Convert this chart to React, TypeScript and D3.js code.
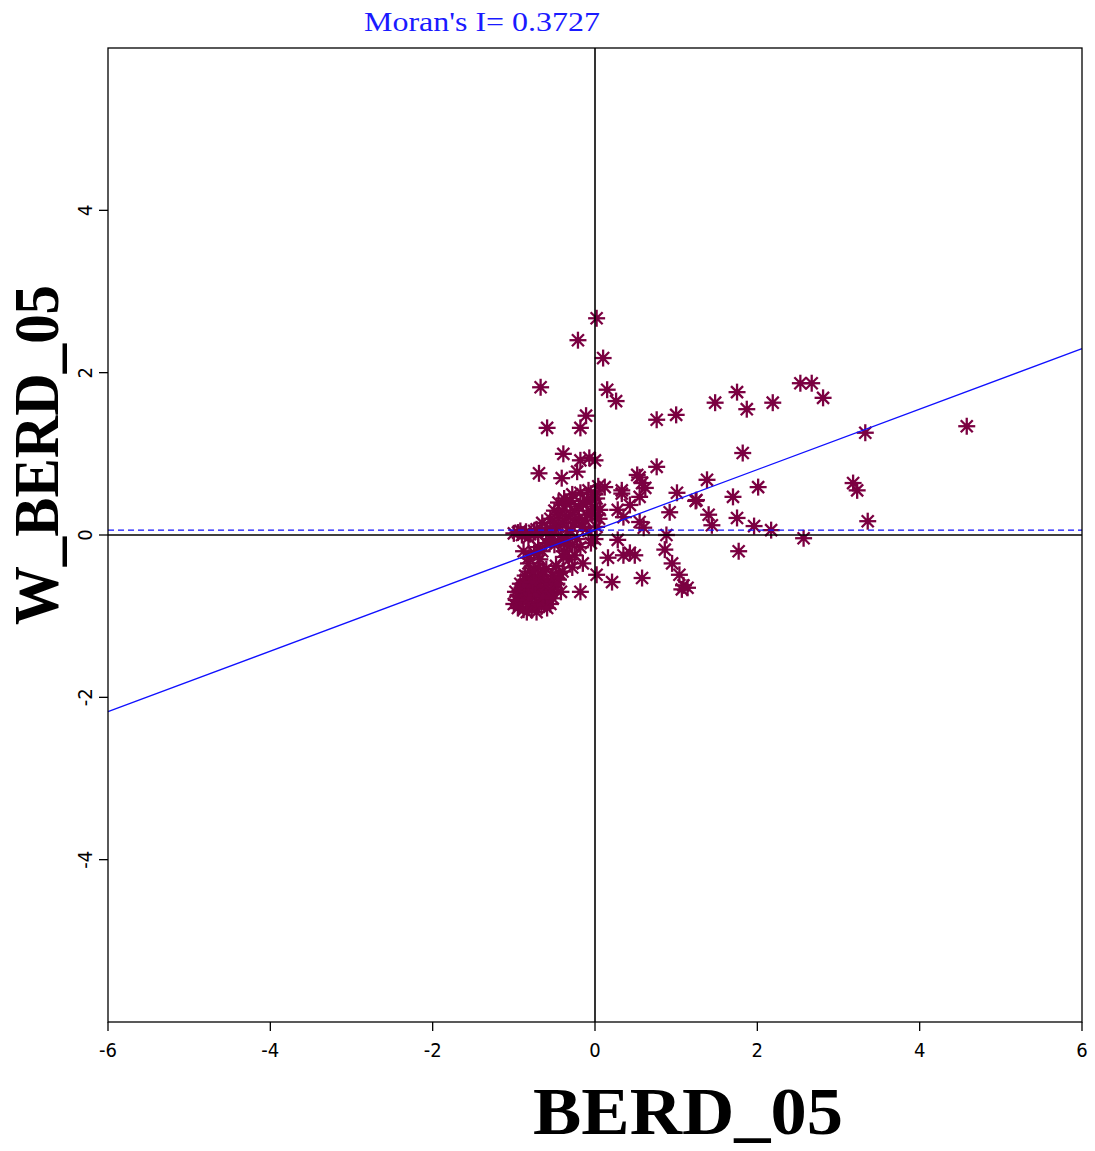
import React from "react";
import * as d3 from "d3";

const W = 1095;
const H = 1151;

const titleText = "Moran's I= 0.3727";
const xLabel = "BERD_05";
const yLabel = "W_BERD_05";
const xTicks = [-6, -4, -2, 0, 2, 4, 6];
const yTicks = [-4, -2, 0, 2, 4];
const moranSlope = 0.3727;
const lagMean = 0.06;

// Scattered points (standardised value, spatial lag)
const outerPoints: [number, number][] = [
  [0.02, 2.67], [-0.21, 2.4], [0.1, 2.18], [-0.67, 1.82], [0.15, 1.79], [0.26, 1.65],
  [-0.11, 1.47], [-0.18, 1.32], [-0.59, 1.32], [-0.39, 1.0], [-0.18, 0.92], [-0.07, 0.95],
  [0.0, 0.92], [-0.69, 0.76], [-0.41, 0.7], [-0.22, 0.78], [0.76, 1.42], [1.0, 1.48],
  [1.48, 1.63], [0.76, 0.84], [0.55, 0.71], [1.75, 1.76], [1.87, 1.55], [2.19, 1.63],
  [2.53, 1.87], [2.67, 1.87], [2.81, 1.69], [1.82, 1.01], [1.38, 0.68], [1.24, 0.42],
  [1.7, 0.47], [2.01, 0.59], [3.18, 0.64], [3.23, 0.55], [1.4, 0.25], [1.44, 0.12],
  [1.75, 0.21], [1.96, 0.11], [2.17, 0.06], [2.57, -0.04], [3.36, 0.17], [3.33, 1.26],
  [1.77, -0.2], [4.58, 1.34],
];

const midPoints: [number, number][] = [
  [0.52, 0.74], [0.58, 0.64], [0.62, 0.58], [0.55, 0.47], [0.12, 0.59], [0.33, 0.51],
  [0.33, 0.55], [1.01, 0.52], [1.25, 0.43], [0.43, 0.37], [0.28, 0.31], [0.35, 0.22],
  [0.92, 0.28], [0.55, 0.16], [0.6, 0.09], [0.88, 0.0], [0.86, -0.18], [0.95, -0.35],
  [1.04, -0.49], [1.09, -0.62], [1.14, -0.65], [1.07, -0.67], [0.58, -0.53], [0.21, -0.58],
  [0.02, -0.49], [0.16, -0.28], [0.35, -0.25], [0.43, -0.22], [0.49, -0.25], [0.28, -0.06],
  [0.06, 0.31], [0.02, 0.1], [-0.18, -0.7], [-0.18, -0.15], [-0.39, -0.27], [-0.15, -0.35],
  [0.02, 0.45], [0.0, 0.25], [0.04, 0.6],
];

const bandPoints: [number, number][] = [
  [-1.0, 0.02], [-0.95, 0.03], [-0.9, 0.0], [-0.85, 0.04], [-0.8, 0.01], [-0.75, 0.05],
  [-0.7, 0.0], [-0.65, 0.06], [-0.6, 0.03], [-0.55, 0.08], [-0.5, 0.02], [-0.92, 0.05],
  [-0.82, -0.03], [-0.72, 0.07],
  [-0.45, 0.1], [-0.4, 0.15], [-0.35, 0.2], [-0.3, 0.25], [-0.25, 0.3], [-0.2, 0.35],
  [-0.15, 0.38], [-0.1, 0.42], [-0.05, 0.45], [0.0, 0.5], [-0.4, 0.3], [-0.35, 0.38],
  [-0.3, 0.42], [-0.45, 0.25], [-0.25, 0.15], [-0.2, 0.2], [-0.1, 0.25], [-0.05, 0.3],
  [-0.15, 0.1], [-0.3, 0.05], [-0.35, -0.05], [-0.5, 0.15], [-0.55, 0.2], [-0.38, 0.45],
  [-0.33, 0.05], [-0.12, 0.18], [0.0, 0.35], [0.05, 0.2], [-0.08, 0.05], [0.0, -0.05],
  [-0.05, -0.1], [-0.22, -0.05], [-0.28, -0.12], [-0.45, -0.08], [-0.6, -0.1], [-0.55, -0.05],
  [-0.65, 0.15], [-0.45, 0.4], [-0.28, 0.5], [-0.18, 0.52], [-0.08, 0.55], [-0.5, 0.3],
];

const blobPoints: [number, number][] = [
  [-1.0, -0.85], [-0.95, -0.75], [-0.95, -0.9], [-0.9, -0.65], [-0.9, -0.8], [-0.88, -0.92],
  [-0.85, -0.55], [-0.85, -0.7], [-0.83, -0.85], [-0.8, -0.45], [-0.8, -0.6], [-0.78, -0.75],
  [-0.78, -0.9], [-0.75, -0.52], [-0.75, -0.68], [-0.72, -0.82], [-0.72, -0.95], [-0.7, -0.4],
  [-0.7, -0.6], [-0.68, -0.72], [-0.66, -0.88], [-0.65, -0.5], [-0.63, -0.65], [-0.62, -0.8],
  [-0.6, -0.42], [-0.58, -0.58], [-0.57, -0.72], [-0.55, -0.85], [-0.52, -0.5], [-0.5, -0.65],
  [-0.48, -0.38], [-0.45, -0.55], [-0.42, -0.7], [-0.4, -0.45], [-0.92, -0.6], [-0.82, -0.35],
  [-0.86, -0.5], [-0.98, -0.7], [-0.68, -0.3],
  [-0.88, -0.2], [-0.82, -0.28], [-0.75, -0.22], [-0.7, -0.15], [-0.65, -0.2], [-0.38, -0.2],
  [-0.32, -0.3], [-0.28, -0.4], [-0.35, -0.12], [-0.42, -0.05], [-0.25, -0.25], [-0.5, -0.12],
  [-0.93, -0.83], [-0.87, -0.62], [-0.81, -0.78], [-0.77, -0.58], [-0.73, -0.74], [-0.69, -0.86],
  [-0.67, -0.55], [-0.64, -0.76], [-0.6, -0.62], [-0.59, -0.9], [-0.54, -0.7], [-0.52, -0.78],
  [-0.47, -0.6], [-0.44, -0.47], [-0.84, -0.95], [-0.97, -0.8], [-0.76, -0.45], [-0.63, -0.45],
];

const allPoints = [...blobPoints, ...bandPoints, ...midPoints, ...outerPoints];

const MARK = "#7b0041";

function Star({ cx, cy }: { cx: number; cy: number }) {
  const r = 8.5;
  const d = 0.7071 * r;
  return (
    <g stroke={MARK} strokeWidth={2.3} strokeLinecap="butt">
      <line x1={cx - r} y1={cy} x2={cx + r} y2={cy} />
      <line x1={cx} y1={cy - r} x2={cx} y2={cy + r} />
      <line x1={cx - d} y1={cy - d} x2={cx + d} y2={cy + d} />
      <line x1={cx - d} y1={cy + d} x2={cx + d} y2={cy - d} />
      <circle cx={cx} cy={cy} r={3} fill={MARK} stroke="none" />
    </g>
  );
}

export default function App() {
  const x = d3.scaleLinear().domain([-6, 6]).range([108, 1082]);
  const y = d3.scaleLinear().domain([-6, 6]).range([1022, 48]);
  const tickFont = "'Liberation Sans Narrow', 'DejaVu Sans Condensed', Arial, sans-serif";

  return (
    <svg
      width={W}
      height={H}
      style={{ position: "absolute", left: 0, top: 0, background: "#fff" }}
    >
      <rect x={0} y={0} width={W} height={H} fill="#fff" />
      {/* points */}
      {allPoints.map(([px, py], i) => (
        <Star key={i} cx={x(px)} cy={y(py)} />
      ))}
      {/* zero lines */}
      <line x1={x(0)} x2={x(0)} y1={y(6)} y2={y(-6)} stroke="#000" strokeWidth={1.6} />
      <line x1={x(-6)} x2={x(6)} y1={y(0)} y2={y(0)} stroke="#000" strokeWidth={1.6} />
      {/* mean lag dashed */}
      <line
        x1={x(-6)}
        x2={x(6)}
        y1={y(lagMean)}
        y2={y(lagMean)}
        stroke="#1010ff"
        strokeWidth={1.3}
        strokeDasharray="6,4"
      />
      {/* regression */}
      <line
        x1={x(-6)}
        x2={x(6)}
        y1={y(lagMean + moranSlope * -6)}
        y2={y(lagMean + moranSlope * 6)}
        stroke="#1010ff"
        strokeWidth={1.3}
      />
      {/* frame */}
      <rect x={108} y={48} width={974} height={974} fill="none" stroke="#000" strokeWidth={1.3} />
      {/* x ticks */}
      {xTicks.map((t) => (
        <g key={"xt" + t}>
          <line x1={x(t)} x2={x(t)} y1={1022} y2={1031} stroke="#000" strokeWidth={1.3} />
          <text
            x={x(t)}
            y={1057}
            textAnchor="middle"
            fontFamily={tickFont}
            fontSize={20}
            fill="#000"
          >
            {t}
          </text>
        </g>
      ))}
      {/* y ticks */}
      {yTicks.map((t) => (
        <g key={"yt" + t}>
          <line x1={99} x2={108} y1={y(t)} y2={y(t)} stroke="#000" strokeWidth={1.3} />
          <text
            transform={`translate(92,${y(t)}) rotate(-90)`}
            textAnchor="middle"
            fontFamily={tickFont}
            fontSize={20}
            fill="#000"
          >
            {t}
          </text>
        </g>
      ))}
      {/* title */}
      <text
        x={482}
        y={31}
        textAnchor="middle"
        fontFamily="'Liberation Serif', 'Times New Roman', serif"
        fontSize={28}
        fill="#1a1aff"
        textLength={236}
        lengthAdjust="spacingAndGlyphs"
      >
        {titleText}
      </text>
      {/* axis titles */}
      <text
        x={688}
        y={1134}
        textAnchor="middle"
        fontFamily="'Liberation Serif', 'Times New Roman', serif"
        fontWeight="bold"
        fontSize={68}
        fill="#000"
        textLength={310}
        lengthAdjust="spacingAndGlyphs"
      >
        {xLabel}
      </text>
      <text
        transform={`translate(58,455) rotate(-90)`}
        textAnchor="middle"
        fontFamily="'Liberation Serif', 'Times New Roman', serif"
        fontWeight="bold"
        fontSize={64}
        fill="#000"
        textLength={340}
        lengthAdjust="spacingAndGlyphs"
      >
        {yLabel}
      </text>
    </svg>
  );
}
